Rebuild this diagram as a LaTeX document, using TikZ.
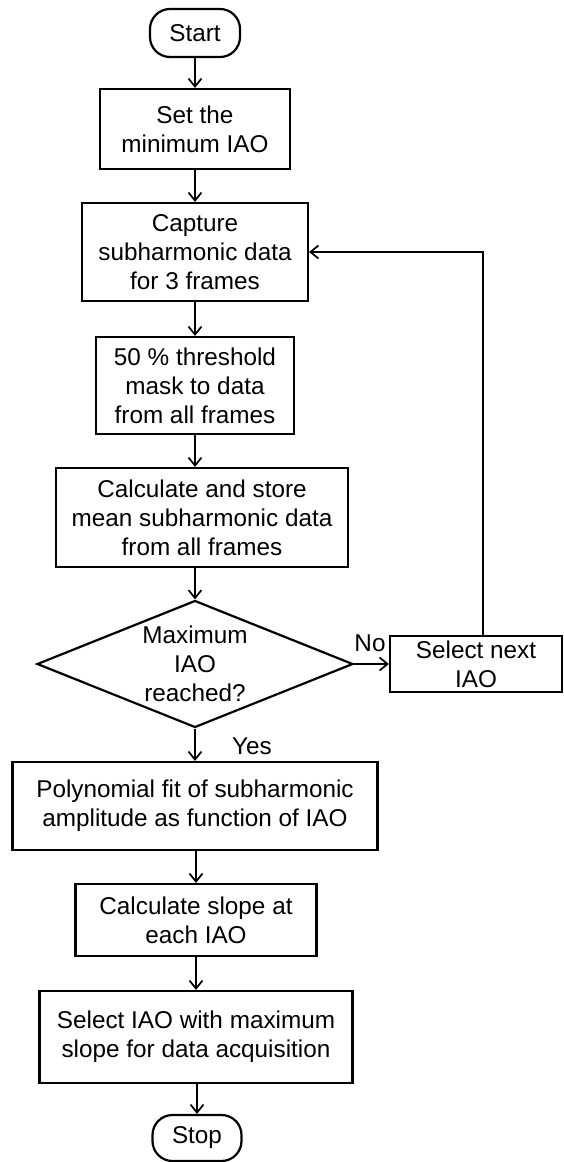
\documentclass[tikz,border=0pt]{standalone}
\usepackage{fontspec}
\setmainfont{Liberation Sans}
\usetikzlibrary{arrows.meta,shapes.geometric}
\begin{document}
\begin{tikzpicture}[x=1pt,y=-1pt,
  every node/.style={font=\fontsize{24.3}{29}\selectfont, align=center, inner sep=0pt},
  procbox/.style={draw, line width=2.2pt, rectangle},
  termbox/.style={draw, line width=2.2pt, rectangle, rounded corners=20pt},
  flow/.style={line width=1.9pt, -{Straight Barb[length=8pt,width=13pt,line width=1.7pt]}},
  lbl/.style={font=\fontsize{24.3}{29}\selectfont}
]
\useasboundingbox (0,0) rectangle (564,1162);
\node[termbox, minimum width=90pt, minimum height=48pt] (start) at (195,33) {Start};
\node[procbox, minimum width=190pt, minimum height=80pt] (setmin) at (195,129) {Set the\\minimum IAO};
\node[procbox, minimum width=226pt, minimum height=98pt] (cap) at (195,252) {Capture\\subharmonic data\\for 3 frames};
\node[procbox, minimum width=198pt, minimum height=97pt] (thr) at (195,385.5) {50 \% threshold\\mask to data\\from all frames};
\node[procbox, minimum width=292pt, minimum height=99pt] (calc) at (202,517.5) {Calculate and store\\mean subharmonic data\\from all frames};
\node[draw, line width=2.2pt, diamond, aspect=2.49, minimum width=316pt, minimum height=127pt] (dia) at (195,664) {};
\node (diatext) at (195,664) {Maximum\\IAO\\reached?};
\node[procbox, minimum width=172pt, minimum height=56pt] (sel) at (476,664) {Select next\\IAO};
\node[procbox, minimum width=365pt, minimum height=88pt] (poly) at (195,806) {Polynomial fit of subharmonic\\amplitude as function of IAO};
\node[procbox, minimum width=241pt, minimum height=72pt] (slope) at (196,920) {Calculate slope at\\each IAO};
\node[procbox, minimum width=313pt, minimum height=92pt] (selmax) at (196,1037) {Select IAO with maximum\\slope for data acquisition};
\node[termbox, minimum width=89pt, minimum height=46pt] (stop) at (197,1138) {Stop};

\node[lbl] (no) at (370,643) {No};
\node[lbl] (yes) at (252,746) {Yes};

\draw[flow] (start) -- (setmin);
\draw[flow] (setmin) -- (cap);
\draw[flow] (cap) -- (thr);
\draw[flow] (thr.south) -- (thr.south |- calc.north);
\draw[flow] (calc.south -| dia.north) -- (dia.north);
\draw[flow] (dia.east) -- (sel.west);
\draw[flow] (dia.south) -- (poly.north -| dia.south);
\draw[flow] (poly.south -| slope.north) -- (slope.north);
\draw[flow] (slope) -- (selmax);
\draw[flow] (selmax.south -| stop.north) -- (stop.north);
\coordinate (up) at (483,636);
\draw[flow] (up) |- (cap.east);
\end{tikzpicture}
\end{document}
